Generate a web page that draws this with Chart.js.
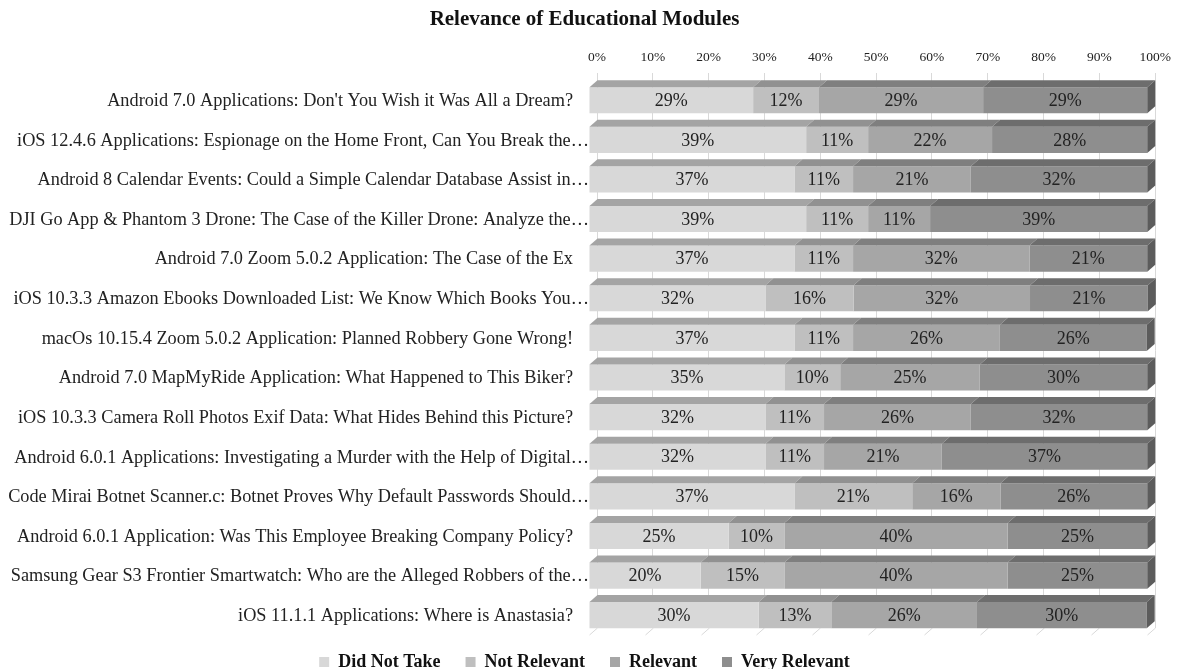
<!DOCTYPE html>
<html>
<head>
<meta charset="utf-8">
<script src="https://cdn.jsdelivr.net/npm/chart.js@4.4.1/dist/chart.umd.min.js"></script>
<style>
  html, body { margin: 0; padding: 0; background: #fff; }
  #wrap { width: 1179px; height: 669px; }
</style>
</head>
<body>
<div id="wrap"><canvas id="chart"></canvas></div>
<script>
// module names as they appear (Excel truncated the long ones)
const modules = [
    "Android 7.0 Applications: Don't You Wish it Was All a Dream?",
    "iOS 12.4.6 Applications: Espionage on the Home Front, Can You Break the\u2026",
    "Android 8 Calendar Events: Could a Simple Calendar Database Assist in\u2026",
    "DJI Go App & Phantom 3 Drone: The Case of the Killer Drone: Analyze the\u2026",
    "Android 7.0 Zoom 5.0.2 Application: The Case of the Ex",
    "iOS 10.3.3 Amazon Ebooks Downloaded List: We Know Which Books You\u2026",
    "macOs 10.15.4 Zoom 5.0.2 Application: Planned Robbery Gone Wrong!",
    "Android 7.0 MapMyRide Application: What Happened to This Biker?",
    "iOS 10.3.3 Camera Roll Photos Exif Data: What Hides Behind this Picture?",
    "Android 6.0.1 Applications: Investigating a Murder with the Help of Digital\u2026",
    "Code Mirai Botnet Scanner.c: Botnet Proves Why Default Passwords Should\u2026",
    "Android 6.0.1 Application: Was This Employee Breaking Company Policy?",
    "Samsung Gear S3 Frontier Smartwatch: Who are the Alleged Robbers of the\u2026",
    "iOS 11.1.1 Applications: Where is Anastasia?"
];

// shares in % (labels are rounded)
const didNotTake   = [29.4, 38.9, 36.8, 38.9, 36.8, 31.6, 36.8, 35, 31.6, 31.6, 36.8, 25, 20, 30.4];
const notRelevant  = [11.8, 11.1, 10.5, 11.1, 10.5, 15.8, 10.5, 10, 10.5, 10.5, 21.1, 10, 15, 13.0];
const relevant     = [29.4, 22.2, 21.1, 11.1, 31.6, 31.6, 26.3, 25, 26.3, 21.1, 15.8, 40, 40, 26.1];
const veryRelevant = [29.4, 27.8, 31.6, 38.9, 21.1, 21.1, 26.3, 30, 31.6, 36.8, 26.3, 25, 25, 30.4];

const seriesNames = ['Did Not Take', 'Not Relevant', 'Relevant', 'Very Relevant'];
const xTickStep = 10;

const frontColors = ['#d8d8d8', '#bfbfbf', '#a6a6a6', '#8e8e8e'];
const topColors = ['#a4a4a4', '#919191', '#7f7f7f', '#6d6d6d'];
const sideColor = '#5c5c5c';
const serif = '"Liberation Serif", "Times New Roman", serif';

// depth of the fake 3d box
const DX = 8, DY = 7;

const bar3d = {
    id: 'bar3d',
    beforeDatasetsDraw(chart) {
        const { ctx, chartArea } = chart;
        const xs = chart.scales.x;
        // floor lines running towards the viewer
        ctx.save();
        ctx.strokeStyle = '#d9d9d9';
        ctx.lineWidth = 1;
        xs.ticks.forEach((t) => {
            const x = Math.round(xs.getPixelForValue(t.value)) + 0.5;
            ctx.beginPath();
            ctx.moveTo(x, chartArea.bottom);
            ctx.lineTo(x - DX, chartArea.bottom + DY);
            ctx.stroke();
        });
        ctx.restore();
        // front faces sit in front of the back wall
        ctx.save();
        ctx.translate(-DX, DY);
    },
    afterDatasetsDraw(chart) {
        const { ctx } = chart;
        const n = chart.data.datasets.length;
        for (let d = 0; d < n; d++) {
            const meta = chart.getDatasetMeta(d);
            meta.data.forEach((el) => {
                const left = Math.min(el.base, el.x);
                const right = Math.max(el.base, el.x);
                const top = el.y - el.height / 2;
                ctx.fillStyle = topColors[d];
                ctx.beginPath();
                ctx.moveTo(left, top);
                ctx.lineTo(left + DX, top - DY);
                ctx.lineTo(right + DX, top - DY);
                ctx.lineTo(right, top);
                ctx.closePath();
                ctx.fill();
                if (d === n - 1) {
                    ctx.fillStyle = sideColor;
                    ctx.beginPath();
                    ctx.moveTo(right, top);
                    ctx.lineTo(right + DX, top - DY);
                    ctx.lineTo(right + DX, top - DY + el.height);
                    ctx.lineTo(right, top + el.height);
                    ctx.closePath();
                    ctx.fill();
                }
            });
        }
        // value labels
        ctx.fillStyle = '#222';
        ctx.font = '18px ' + serif;
        ctx.textAlign = 'center';
        ctx.textBaseline = 'middle';
        for (let d = 0; d < n; d++) {
            const meta = chart.getDatasetMeta(d);
            const values = chart.data.datasets[d].data;
            meta.data.forEach((el, i) => {
                const cx = (el.base + el.x) / 2;
                ctx.fillText(Math.round(values[i]) + '%', cx, el.y + 1);
            });
        }
        ctx.restore();
    },
    afterDraw(chart) {
        // category labels, level with the bar fronts; truncated ones run on up to the bar
        const { ctx, chartArea } = chart;
        const ys = chart.scales.y;
        ctx.save();
        ctx.fillStyle = '#222';
        ctx.font = '18.3px ' + serif;
        ctx.textAlign = 'right';
        ctx.textBaseline = 'middle';
        chart.data.labels.forEach((label, i) => {
            const y = ys.getPixelForTick(i) + DY + 1;
            const x = label.endsWith('\u2026') ? chartArea.left - 8 : chartArea.left - 24;
            ctx.fillText(label, x, y);
        });
        ctx.restore();
    }
};

const seriesData = [didNotTake, notRelevant, relevant, veryRelevant];

new Chart(document.getElementById('chart'), {
    type: 'bar',
    data: {
        labels: modules,
        datasets: seriesNames.map((name, i) => ({
            label: name,
            data: seriesData[i],
            backgroundColor: frontColors[i],
            borderWidth: 0,
            barPercentage: 0.66,
            categoryPercentage: 1,
            clip: false
        }))
    },
    options: {
        indexAxis: 'y',
        responsive: true,
        maintainAspectRatio: false,
        animation: false,
        layout: { padding: { left: 0, right: 10, top: 0, bottom: -12 } },
        scales: {
            x: {
                position: 'top',
                stacked: true,
                min: 0,
                max: 100,
                border: { display: false },
                grid: { color: '#d9d9d9', drawTicks: false },
                ticks: {
                    stepSize: xTickStep,
                    padding: 8,
                    color: '#222',
                    font: { family: serif, size: 13.5 },
                    callback: (v) => v + '%'
                }
            },
            y: {
                stacked: true,
                border: { display: false },
                grid: { display: false, drawTicks: false },
                ticks: { display: false, autoSkip: false },
                afterFit: (s) => { s.width = 597; }
            }
        },
        plugins: {
            title: {
                display: true,
                text: 'Relevance of Educational Modules',
                color: '#111',
                font: { family: serif, size: 21, weight: 'bold' },
                padding: { top: 7, bottom: 9 }
            },
            legend: {
                position: 'bottom',
                labels: {
                    boxWidth: 10,
                    boxHeight: 10,
                    padding: 25,
                    color: '#111',
                    font: { family: serif, size: 18, weight: 'bold' }
                }
            },
            tooltip: { enabled: false }
        }
    },
    plugins: [bar3d]
});
</script>
</body>
</html>
